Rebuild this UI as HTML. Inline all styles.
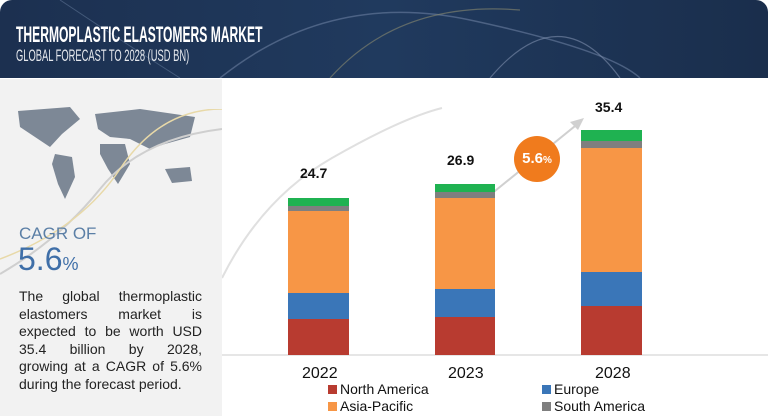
<!DOCTYPE html>
<html><head><style>
body{margin:0;width:768px;height:416px;overflow:hidden;background:#fff;font-family:"Liberation Sans",sans-serif;position:relative}
.hdr{position:absolute;left:0;top:0;width:768px;height:78px;background:linear-gradient(90deg,#1c3050,#203a5e 50%,#1a2e4c);border-radius:12px 12px 0 0}
.t1{position:absolute;left:16px;top:22px;color:#fff;font-size:22px;font-weight:bold;transform:scaleX(.55);transform-origin:left;white-space:nowrap}
.t2{position:absolute;left:16px;top:46px;color:#e6e9ee;font-size:17px;transform:scaleX(.55);transform-origin:left;white-space:nowrap}
.left{position:absolute;left:0;top:79px;width:222px;height:337px;background:#f2f2f2}
.bar{position:absolute}
.lbl{position:absolute;font-size:15px;color:#111}
.p div{text-align:justify;text-align-last:justify;height:17.6px}
</style></head><body>
<div class="hdr">
<svg width="768" height="78" style="position:absolute;left:0;top:0">
<path d="M220 78 Q330 -10 470 20 T640 78" stroke="#6a7fa0" stroke-width="1.5" fill="none" opacity=".6"/>
<path d="M330 78 Q400 0 520 10" stroke="#8b8a70" stroke-width="1.2" fill="none" opacity=".6"/>
<path d="M490 78 Q560 -5 620 78" stroke="#7f8fae" stroke-width="1.2" fill="none" opacity=".6"/>
<path d="M60 0 Q120 40 180 78" stroke="#6a7fa0" stroke-width="1" fill="none" opacity=".5"/>
</svg>
<div class="t1">THERMOPLASTIC ELASTOMERS MARKET</div>
<div class="t2">GLOBAL FORECAST TO 2028 (USD BN)</div>
</div>
<div class="left">
<svg width="222" height="120" style="position:absolute;left:0;top:20px">
<g fill="#7d8896">
<path d="M18 12 L70 8 L80 20 L62 35 L50 48 L38 40 L20 28Z"/>
<path d="M55 55 L72 58 L75 78 L65 100 L58 85 L52 65Z"/>
<path d="M95 15 L140 10 L195 18 L190 38 L165 45 L150 50 L130 40 L110 38 L98 30Z"/>
<path d="M100 45 L125 45 L130 65 L118 85 L108 70 L100 55Z"/>
<path d="M165 70 L190 68 L192 82 L172 84Z"/>
</g>
</svg>
<svg width="222" height="170" style="position:absolute;left:0;top:30px">
<path d="M0 165 Q60 130 100 80 T222 20" stroke="#cfcfcf" stroke-width="2" fill="none"/>
<path d="M0 150 Q80 120 120 60 T222 0" stroke="#e8d9a8" stroke-width="1.5" fill="none"/>
</svg>
<div style="position:absolute;left:19px;top:145px;color:#5b7fa6;font-size:17px">CAGR OF</div>
<div style="position:absolute;left:18px;top:162px;color:#3f6fa8;font-size:32px">5.6<span style="font-size:18px">%</span></div>
<div class="p" style="position:absolute;left:19px;top:209px;width:183px;font-size:14px;line-height:17.6px;color:#222">
<div>The global thermoplastic</div><div>elastomers market is</div><div>expected to be worth USD</div><div>35.4 billion by 2028,</div><div>growing at a CAGR of 5.6%</div><div style="text-align-last:left">during the forecast period.</div>
</div>
</div>
<svg width="546" height="340" style="position:absolute;left:222px;top:78px">
<path d="M0 200 Q40 120 110 80 T220 30" stroke="#e0e0e0" stroke-width="2" fill="none"/>
<line x1="0" y1="277" x2="546" y2="277" stroke="#ccc" stroke-width="1"/>
<line x1="268" y1="117" x2="358" y2="44" stroke="#d0d0d0" stroke-width="2"/>
<polygon points="362,40 348,44 356,52" fill="#d0d0d0"/>
</svg>
<div class="bar" style="left:288px;top:198px;width:61px;height:8px;background:#1fb251"></div>
<div class="bar" style="left:288px;top:206px;width:61px;height:5px;background:#7f7f7f"></div>
<div class="bar" style="left:288px;top:211px;width:61px;height:82px;background:#f79646"></div>
<div class="bar" style="left:288px;top:293px;width:61px;height:26px;background:#3a76b8"></div>
<div class="bar" style="left:288px;top:319px;width:61px;height:36px;background:#b83b30"></div>
<div class="bar" style="left:435px;top:184px;width:60px;height:8px;background:#1fb251"></div>
<div class="bar" style="left:435px;top:192px;width:60px;height:6px;background:#7f7f7f"></div>
<div class="bar" style="left:435px;top:198px;width:60px;height:91px;background:#f79646"></div>
<div class="bar" style="left:435px;top:289px;width:60px;height:28px;background:#3a76b8"></div>
<div class="bar" style="left:435px;top:317px;width:60px;height:38px;background:#b83b30"></div>
<div class="bar" style="left:581px;top:130px;width:61px;height:11px;background:#1fb251"></div>
<div class="bar" style="left:581px;top:141px;width:61px;height:7px;background:#7f7f7f"></div>
<div class="bar" style="left:581px;top:148px;width:61px;height:124px;background:#f79646"></div>
<div class="bar" style="left:581px;top:272px;width:61px;height:34px;background:#3a76b8"></div>
<div class="bar" style="left:581px;top:306px;width:61px;height:49px;background:#b83b30"></div>
<div class="lbl" style="left:300px;top:165px;font-weight:bold;font-size:14px">24.7</div>
<div class="lbl" style="left:447px;top:152px;font-weight:bold;font-size:14px">26.9</div>
<div class="lbl" style="left:595px;top:99px;font-weight:bold;font-size:14px">35.4</div>
<div style="position:absolute;left:514px;top:136px;width:46px;height:46px;border-radius:50%;background:#f07b1d;color:#fff;font-weight:bold;font-size:15px;text-align:center;line-height:46px">5.6<span style="font-size:10px">%</span></div>
<div class="lbl" style="left:302px;top:365px;font-size:16px">2022</div>
<div class="lbl" style="left:448px;top:365px;font-size:16px">2023</div>
<div class="lbl" style="left:595px;top:365px;font-size:16px">2028</div>
<div class="lbl" style="left:328px;top:381px;font-size:14px"><span style="display:inline-block;width:9px;height:9px;background:#b83b30;margin-right:3px"></span>North America</div>
<div class="lbl" style="left:328px;top:398px;font-size:14px"><span style="display:inline-block;width:9px;height:9px;background:#f79646;margin-right:3px"></span>Asia-Pacific</div>
<div class="lbl" style="left:542px;top:381px;font-size:14px"><span style="display:inline-block;width:9px;height:9px;background:#3a76b8;margin-right:3px"></span>Europe</div>
<div class="lbl" style="left:542px;top:398px;font-size:14px"><span style="display:inline-block;width:9px;height:9px;background:#7f7f7f;margin-right:3px"></span>South America</div>
</body></html>
